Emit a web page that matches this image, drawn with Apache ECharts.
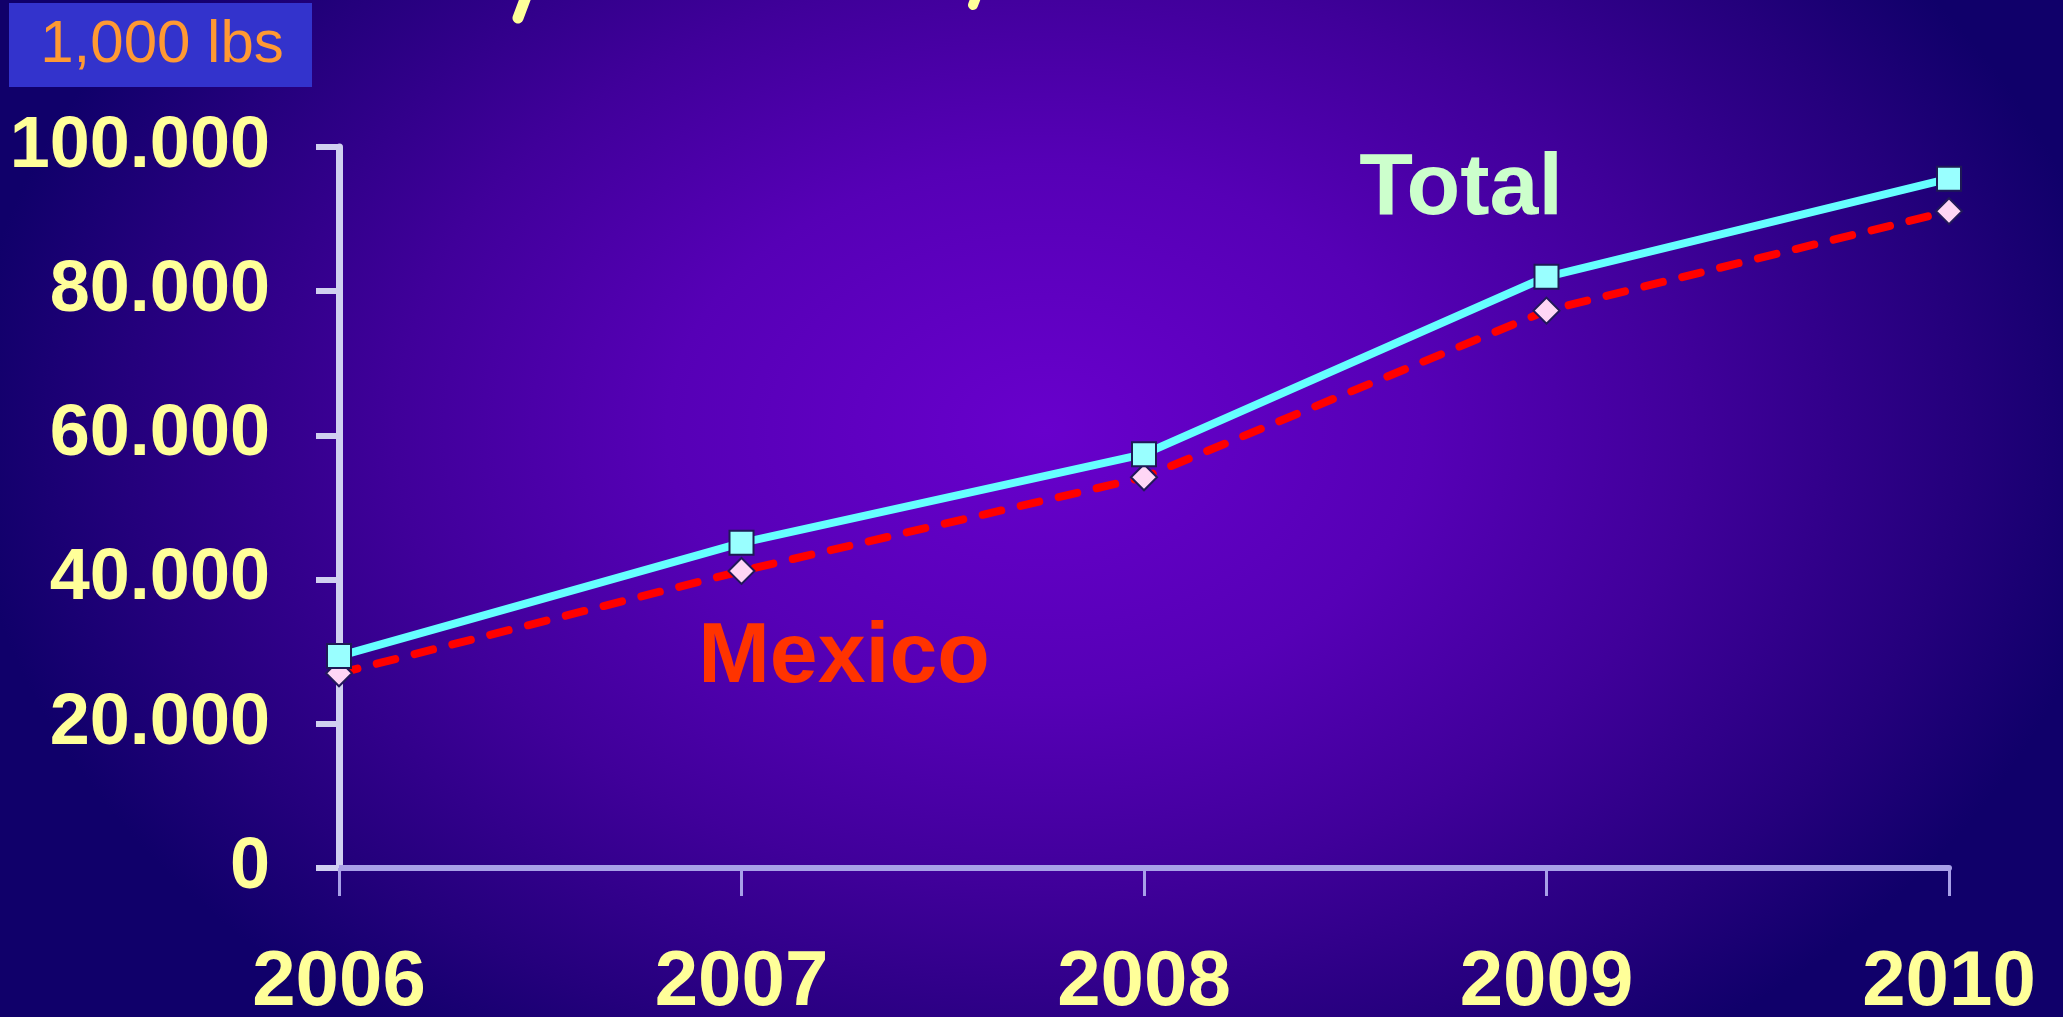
<!DOCTYPE html>
<html>
<head>
<meta charset="utf-8">
<script src="https://cdn.jsdelivr.net/npm/echarts@6/dist/echarts.min.js"></script>
<style>
  html, body { margin: 0; padding: 0; overflow: hidden; }
  #chart {
    width: 2063px; height: 1017px;
    background: radial-gradient(ellipse 1080px 760px at 1045px 430px,
      #6800cc 0%, #5600b6 35%, #40009a 60%, #24007c 85%, #10006a 100%);
  }
</style>
</head>
<body>
<div id="chart"></div>
<script>
const years = ['2006', '2007', '2008', '2009', '2010'];
const totalValues = [29400, 45100, 57400, 82000, 95600];
const mexicoValues = [27000, 41200, 54200, 77300, 91100];
const yTickLabels = ['0', '20.000', '40.000', '60.000', '80.000', '100.000'];
const unitLabel = '1,000 lbs';
const seriesNames = ['Total', 'Mexico'];

const FONT = '"Comic Sans MS", "Liberation Sans", Arial, sans-serif';

const chart = echarts.init(document.getElementById('chart'), null, { renderer: 'canvas' });
chart.setOption({
  animation: false,
  backgroundColor: 'transparent',
  grid: { left: 339, top: 147, right: 114, bottom: 149, containLabel: false, outerBoundsMode: 'none' },
  xAxis: {
    type: 'category',
    data: years,
    boundaryGap: false,
    axisLine: { show: true, lineStyle: { color: '#a8a0e8', width: 6 } },
    axisTick: { show: true, length: 28, lineStyle: { color: '#a8a0e8', width: 3 } },
    axisLabel: { color: '#ffff99', fontSize: 78, fontWeight: 'bold', fontFamily: FONT, margin: 76 },
    splitLine: { show: false }
  },
  yAxis: {
    type: 'value',
    min: 0, max: 100000, interval: 20000,
    axisLine: { show: true, lineStyle: { color: '#d0d0f0', width: 7 } },
    axisTick: { show: true, length: 23, lineStyle: { color: '#d0d0f0', width: 6 } },
    axisLabel: {
      color: '#ffff99', fontSize: 72, fontWeight: 'bold', fontFamily: FONT, margin: 69,
      formatter: v => yTickLabels[Math.round(v / 20000)]
    },
    splitLine: { show: false }
  },
  series: [
    {
      name: seriesNames[1], type: 'line', data: mexicoValues,
      symbol: 'diamond', symbolSize: 26,
      itemStyle: { color: '#ffd6f5', borderColor: '#22195a', borderWidth: 2 },
      lineStyle: { color: '#ff0000', width: 8, type: [19, 20], cap: 'round' },
      z: 2
    },
    {
      name: seriesNames[0], type: 'line', data: totalValues,
      symbol: 'rect', symbolSize: 24,
      itemStyle: { color: '#99ffff', borderColor: '#1e1a55', borderWidth: 2 },
      lineStyle: { color: '#66ffff', width: 8 },
      z: 3
    }
  ],
  graphic: [
    { type: 'rect', left: 9, top: 3, shape: { width: 303, height: 84 }, style: { fill: '#3333cc' } },
    { type: 'text', x: 162, y: 45, style: { text: unitLabel, fill: '#ff9933', font: '60px ' + FONT, align: 'center', verticalAlign: 'middle' } },
    { type: 'text', x: 1461, y: 190, style: { text: seriesNames[0], fill: '#ccffcc', font: 'bold 88px ' + FONT, align: 'center', verticalAlign: 'middle' } },
    { type: 'text', x: 844, y: 658, style: { text: seriesNames[1], fill: '#ff3300', font: 'bold 86px ' + FONT, align: 'center', verticalAlign: 'middle' } },
    { type: 'line', shape: { x1: 527, y1: -6, x2: 518, y2: 18 }, style: { stroke: '#ffff99', lineWidth: 11, lineCap: 'round' } },
    { type: 'line', shape: { x1: 978, y1: -8, x2: 973, y2: 5 }, style: { stroke: '#ffff99', lineWidth: 10, lineCap: 'round' } }
  ]
});
</script>
</body>
</html>
